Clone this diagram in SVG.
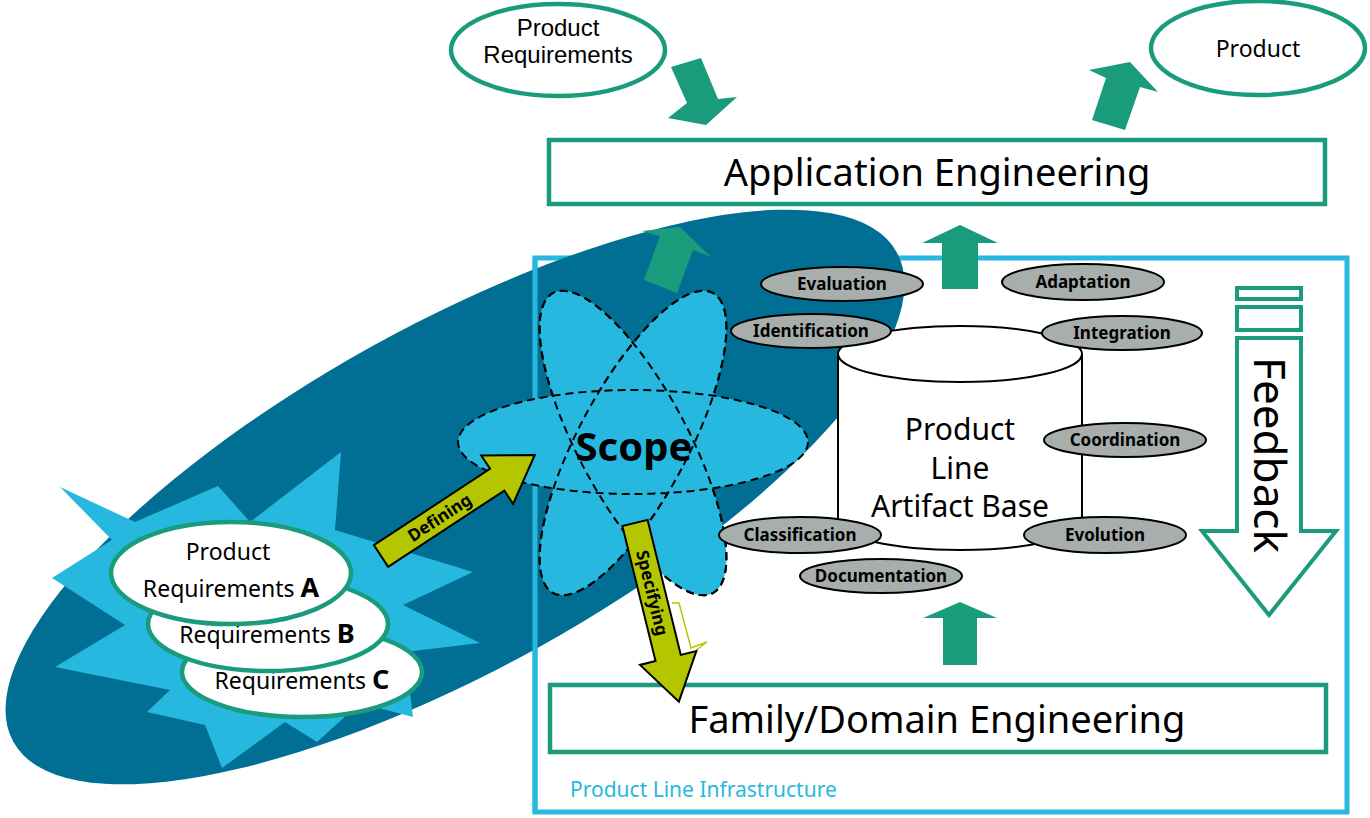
<svg xmlns="http://www.w3.org/2000/svg" width="1370" height="818" viewBox="0 0 1370 818">
  <defs>
    <style>
      .t { font-family: "Noto Sans", "Open Sans", "Liberation Sans", sans-serif; fill: #000; }
      .tl { font-family: "Liberation Sans", Arial, sans-serif; fill: #000; }
      .lbl { font-family: "Noto Sans", "Open Sans", "Liberation Sans", sans-serif; font-weight: bold; font-size: 17px; text-anchor: middle; fill: #000; }
      .oval { fill: #a8aeac; stroke: #000; stroke-width: 2; }
      .req { fill: #fff; stroke: #1a9b7b; stroke-width: 4.5; }
      .box { fill: #fff; stroke: #1a9b7b; stroke-width: 4.5; }
      .garrow { fill: #1a9b7b; }
      .yarrow { fill: #b4c600; stroke: #000; stroke-width: 2; stroke-linejoin: miter; }
      .scope { fill: #27b8e0; stroke: #000; stroke-width: 2; stroke-dasharray: 8 5; }
    </style>
  </defs>

  <!-- infrastructure frame (top part later hidden by the scope field) -->
  <g id="infrastructure">
    <rect x="535" y="258" width="812" height="554" fill="#fff" stroke="#27b8e0" stroke-width="5"/>
    <text class="t" x="570" y="797" font-size="21" style="fill:#27b8e0">Product Line Infrastructure</text>
  </g>

  <!-- scope field -->
  <g id="scope-field">
    <ellipse cx="455" cy="497" rx="505" ry="172" transform="rotate(-29 455 497)" fill="#016f94"/>
  </g>

  <line x1="535" y1="258" x2="535" y2="812" stroke="#27b8e0" stroke-width="5"/>

  <!-- burst behind the product requirements -->
  <g id="burst">
    <polygon fill="#27b8e0" points="60,487 135,522 218,486 250,522 341,452 335,530 473,572 403,605 480,643 405,652 413,717 360,703 317,742 285,722 222,768 205,725 147,712 170,690 55,667 125,625 52,578 112,540"/>
  </g>

  <!-- product requirements C, B, A -->
  <g id="req-c">
    <ellipse class="req" cx="302" cy="672" rx="120" ry="45"/>
    <text class="t" x="302" y="689" font-size="23" text-anchor="middle">Requirements <tspan font-weight="bold" font-size="27">C</tspan></text>
  </g>
  <g id="req-b">
    <ellipse class="req" cx="268" cy="624" rx="120" ry="47"/>
    <text class="t" x="267" y="643" font-size="23" text-anchor="middle">Requirements <tspan font-weight="bold" font-size="27">B</tspan></text>
  </g>
  <g id="req-a">
    <ellipse class="req" cx="231" cy="573" rx="120" ry="51"/>
    <text class="t" font-size="23" text-anchor="middle"><tspan x="228" y="560">Product</tspan><tspan x="231" y="597">Requirements <tspan font-weight="bold" font-size="27">A</tspan></tspan></text>
  </g>

  <!-- scope -->
  <g id="scope">
    <ellipse class="scope" cx="633" cy="443" rx="55" ry="170" transform="rotate(-28 633 443)"/>
    <ellipse class="scope" cx="633" cy="443" rx="55" ry="170" transform="rotate(28 633 443)"/>
    <ellipse class="scope" cx="633" cy="442" rx="175" ry="52"/>
    <ellipse cx="633" cy="443" rx="55" ry="170" transform="rotate(-28 633 443)" fill="none" stroke="#000" stroke-width="2" stroke-dasharray="8 5"/>
    <ellipse cx="633" cy="443" rx="55" ry="170" transform="rotate(28 633 443)" fill="none" stroke="#000" stroke-width="2" stroke-dasharray="8 5"/>
    <text class="t" x="634" y="461" font-size="40" font-weight="bold" text-anchor="middle">Scope</text>
  </g>

  <!-- artifact base -->
  <g id="artifact-base">
    <path d="M838,354 L838,522 A122,28 0 0 0 1082,522 L1082,354" fill="#fff" stroke="#000" stroke-width="2"/>
    <ellipse cx="960" cy="354" rx="122" ry="28" fill="#fff" stroke="#000" stroke-width="2"/>
    <text class="t" font-size="30" text-anchor="middle"><tspan x="960" y="440">Product</tspan><tspan x="960" y="479">Line</tspan><tspan x="960" y="517">Artifact Base</tspan></text>
  </g>

  <!-- activities -->
  <g id="evaluation"><ellipse class="oval" cx="842" cy="284" rx="81" ry="17"/><text class="lbl" x="842" y="290">Evaluation</text></g>
  <g id="adaptation"><ellipse class="oval" cx="1083" cy="282" rx="81" ry="18"/><text class="lbl" x="1083" y="288">Adaptation</text></g>
  <g id="identification"><ellipse class="oval" cx="811" cy="331" rx="80" ry="17"/><text class="lbl" x="811" y="337">Identification</text></g>
  <g id="integration"><ellipse class="oval" cx="1122" cy="333" rx="80" ry="17"/><text class="lbl" x="1122" y="339">Integration</text></g>
  <g id="coordination"><ellipse class="oval" cx="1125" cy="440" rx="81" ry="17"/><text class="lbl" x="1125" y="446">Coordination</text></g>
  <g id="classification"><ellipse class="oval" cx="800" cy="535" rx="81" ry="18"/><text class="lbl" x="800" y="541">Classification</text></g>
  <g id="evolution"><ellipse class="oval" cx="1105" cy="535" rx="81" ry="18"/><text class="lbl" x="1105" y="541">Evolution</text></g>
  <g id="documentation"><ellipse class="oval" cx="881" cy="576" rx="81" ry="17"/><text class="lbl" x="881" y="582">Documentation</text></g>

  <!-- inputs and outputs -->
  <g id="product-requirements">
    <ellipse class="req" cx="558" cy="50" rx="107" ry="46"/>
    <text class="tl" font-size="24" text-anchor="middle"><tspan x="558" y="36">Product</tspan><tspan x="558" y="63">Requirements</tspan></text>
  </g>
  <g id="product">
    <ellipse class="req" cx="1258" cy="48" rx="107" ry="47"/>
    <text class="t" x="1258" y="57" font-size="23" text-anchor="middle">Product</text>
  </g>

  <g id="application-engineering">
    <rect class="box" x="549" y="140" width="776" height="64"/>
    <text class="t" x="937" y="186" font-size="38" text-anchor="middle">Application Engineering</text>
  </g>
  <g id="domain-engineering">
    <rect class="box" x="550" y="685" width="776" height="67"/>
    <text class="t" x="937" y="733" font-size="38" text-anchor="middle">Family/Domain Engineering</text>
  </g>

  <!-- feedback -->
  <g id="feedback">
    <rect x="1237" y="288" width="64" height="11" fill="#fff" stroke="#1a9b7b" stroke-width="4"/>
    <rect x="1237" y="307" width="64" height="23" fill="#fff" stroke="#1a9b7b" stroke-width="4"/>
    <polygon points="1237,338 1301,338 1301,531 1336,531 1269,615 1202,531 1237,531" fill="#fff" stroke="#1a9b7b" stroke-width="4"/>
    <text class="t" x="1269" y="455" font-size="44" text-anchor="middle" transform="rotate(90 1269 455)" dy="15">Feedback</text>
  </g>

  <!-- connectors -->
  <g id="connectors">
    <!-- requirements into application engineering -->
    <polygon class="garrow" points="671,67 701,58 718,99 737,97 706,125 668,118 687,103"/>
    <!-- product out of application engineering -->
    <polygon class="garrow" points="1092,120 1125,130 1140,87 1158,92 1130,62 1089,70 1106,78"/>
    <!-- scope towards application engineering -->
    <polygon class="garrow" points="644,280 677,293 693,250 711,257 680,227 642,231 660,236"/>
    <!-- artifact base up to application engineering -->
    <polygon class="garrow" points="942,289 978,289 978,243 998,243 960,225 922,243 942,243"/>
    <!-- domain engineering up to artifact base -->
    <polygon class="garrow" points="943,665 977,665 977,618 997,618 960,602 923,618 943,618"/>

    <!-- defining -->
    <g transform="translate(381 556) rotate(-33.3)">
      <polygon class="yarrow" points="0,-13 139,-13 139,-29 184,0 139,29 139,13 0,13"/>
      <text class="lbl" x="70" y="6">Defining</text>
    </g>
    <!-- specifying -->
    <polyline points="672,603 679,603 691,648 707,642 695,651" fill="none" stroke="#b4c600" stroke-width="1.5"/>
    <g transform="translate(635 523) rotate(76.2)">
      <polygon class="yarrow" points="0,-13 139,-13 139,-29 184,0 139,29 139,13 0,13"/>
      <text class="lbl" x="72" y="6">Specifying</text>
    </g>
  </g>
</svg>
